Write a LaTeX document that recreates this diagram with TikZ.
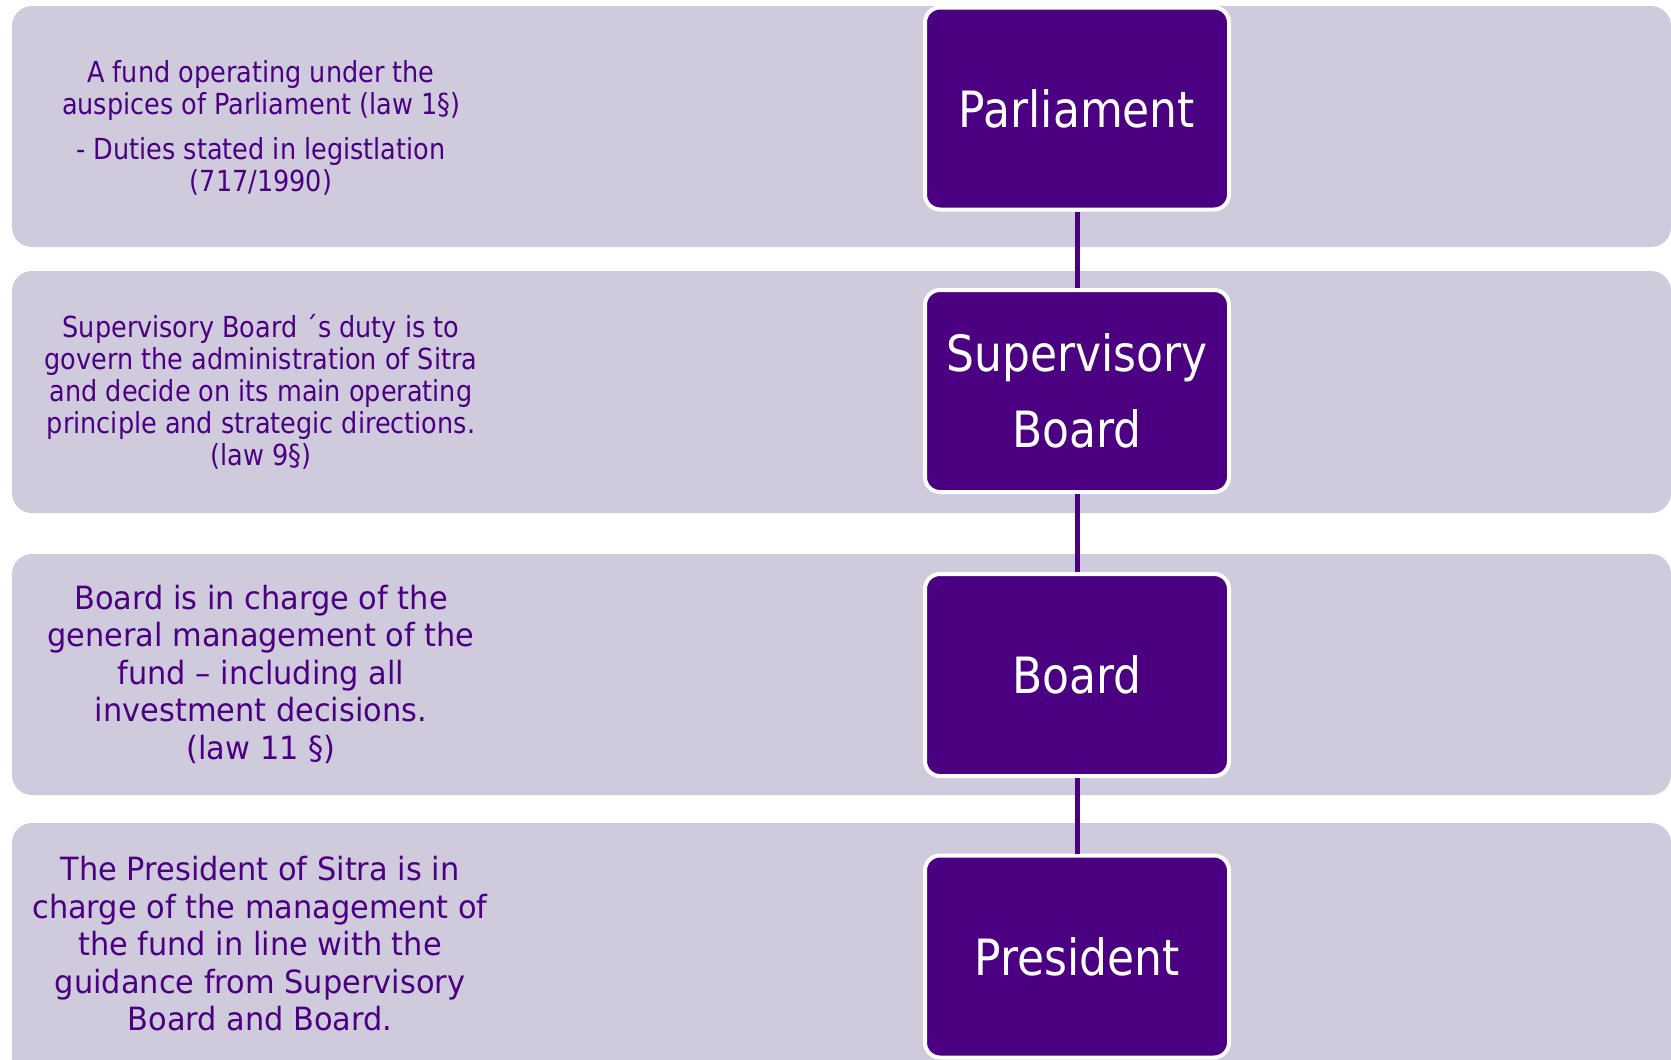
\documentclass[tikz,border=0pt]{standalone}
\usepackage{fontspec}
\newfontfamily\tah{DejaVu Sans}[FakeStretch=0.88]
\newfontfamily\tahw{DejaVu Sans}[FakeStretch=0.95]
\definecolor{band}{HTML}{CFCBDC}
\definecolor{indig}{HTML}{4B0082}
\begin{document}
\begin{tikzpicture}[x=1pt,y=-1pt,
 bandbox/.style={fill=band, rounded corners=20pt},
 rolebox/.style={fill=indig, draw=white, line width=4pt, rounded corners=15pt, minimum width=304pt, minimum height=202pt, inner sep=0pt, text=white, font=\tah\fontsize{50}{76}\selectfont, align=center},
 desc/.style={text=indig, align=center, inner sep=0pt, font=\tah\fontsize{29}{32}\selectfont},
 descbig/.style={text=indig, align=center, inner sep=0pt, font=\tahw\fontsize{32}{37.5}\selectfont},
 link/.style={draw=indig, line width=5pt}]
\useasboundingbox (0,0) rectangle (1671,1060);
\fill[white] (0,0) rectangle (1671,1060);
\path[bandbox] (12,6) rectangle (1671,247);
\path[bandbox] (12,271) rectangle (1671,513);
\path[bandbox] (12,554) rectangle (1671,795);
\path[bandbox] (12,823) rectangle (1671,1080);
\node[rolebox] (parl) at (1077,108.5) {Parliament};
\node[rolebox] (sup) at (1077,391) {Supervisory\\Board};
\node[rolebox] (board) at (1077,675) {Board};
\node[rolebox] (pres) at (1077,956.5) {President};
\draw[link] (parl.south) -- (sup.north);
\draw[link] (sup.south) -- (board.north);
\draw[link] (board.south) -- (pres.north);
\node[desc] (t1) at (261,128) {A fund operating under the\\auspices of Parliament (law 1§)\\[13pt]- Duties stated in legistlation\\(717/1990)};
\node[desc] (t2) at (261,392) {Supervisory Board ´s duty is to\\govern the administration of Sitra\\and decide on its main operating\\principle and strategic directions.\\(law 9§)};
\node[descbig] (t3) at (261,674) {Board is in charge of the\\general management of the\\fund – including all\\investment decisions.\\(law 11 §)};
\node[descbig] (t4) at (260,944) {The President of Sitra is in\\charge of the management of\\the fund in line with the\\guidance from Supervisory\\Board and Board.};
\end{tikzpicture}
\end{document}
